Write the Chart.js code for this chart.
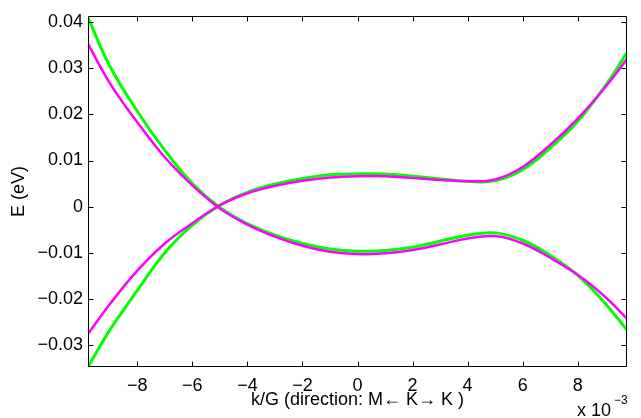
<!DOCTYPE html>
<html>
<head>
<meta charset="utf-8">
<script src="https://cdn.jsdelivr.net/npm/chart.js@4/dist/chart.umd.min.js"></script>
<style>
  html, body { margin: 0; padding: 0; background: #fff; }
  #wrap { width: 641px; height: 418px; }
</style>
</head>
<body>
<div id="wrap"><canvas id="bands"></canvas></div>
<script>
// k/G values in units of 1e-3
const kx = [-9.79, -9, -8, -7, -6, -5, -4, -3, -2, -1, 0, 1, 2, 3, 4, 5, 6, 7, 8, 9, 9.79];

// band falling from upper left (magenta / green)
const bandDownM = [0.0353, 0.0268, 0.0183, 0.0107, 0.0046, -0.0004, -0.0039, -0.0065, -0.0085, -0.0098, -0.0103,
                   -0.0101, -0.0094, -0.0082, -0.0069, -0.0064, -0.0080, -0.0111, -0.0148, -0.0196, -0.0243];
const bandDownG = [0.0410, 0.0305, 0.0207, 0.0122, 0.0050, -0.0002, -0.0037, -0.0062, -0.0080, -0.0092, -0.0097,
                   -0.0095, -0.0088, -0.0075, -0.0062, -0.0057, -0.0073, -0.0106, -0.0149, -0.0210, -0.0268];

// band rising from lower left (magenta / green)
const bandUpM = [-0.0276, -0.0212, -0.0139, -0.0080, -0.0036, 0.0003, 0.0029, 0.0045, 0.0056, 0.0063, 0.0066,
                 0.0066, 0.0062, 0.0058, 0.0055, 0.0059, 0.0086, 0.0134, 0.0191, 0.0259, 0.0320];
const bandUpG = [-0.0348, -0.0268, -0.0182, -0.0100, -0.0040, 0.0003, 0.0031, 0.0049, 0.0061, 0.0069, 0.0071,
                 0.0071, 0.0066, 0.0060, 0.0055, 0.0056, 0.0080, 0.0127, 0.0185, 0.0262, 0.0334];

const xTicks = [-8, -6, -4, -2, 0, 2, 4, 6, 8];
const yTicks = [-0.03, -0.02, -0.01, 0, 0.01, 0.02, 0.03, 0.04];

const FONT = '"Liberation Sans", Arial, Helvetica, sans-serif';
const MAGENTA = '#ff00ff';
const GREEN = '#00ff00';

function pts(ys) {
    return kx.map((x, i) => ({ x: x, y: ys[i] }));
}
function minus(s) {
    return s.replace('-', '\u2212');
}

// matlab style box with inward ticks + exponent label
const boxPlugin = {
    id: 'box',
    afterDraw(chart) {
        const ctx = chart.ctx;
        const a = chart.chartArea;
        const xs = chart.scales.x, ys = chart.scales.y;
        const L = Math.round(a.left) + 0.5, R = Math.round(a.right) - 0.5;
        const T = Math.round(a.top) + 0.5, B = Math.round(a.bottom) - 0.5;
        ctx.save();
        ctx.strokeStyle = '#000';
        ctx.lineWidth = 1;
        ctx.beginPath();
        ctx.rect(L, T, R - L, B - T);
        xTicks.forEach(v => {
            const p = Math.round(xs.getPixelForValue(v)) + 0.5;
            ctx.moveTo(p, B); ctx.lineTo(p, B - 5);
            ctx.moveTo(p, T); ctx.lineTo(p, T + 5);
        });
        yTicks.forEach(v => {
            const p = Math.round(ys.getPixelForValue(v)) + 0.5;
            ctx.moveTo(L, p); ctx.lineTo(L + 5, p);
            ctx.moveTo(R, p); ctx.lineTo(R - 5, p);
        });
        ctx.stroke();

        ctx.fillStyle = '#000';
        ctx.textBaseline = 'alphabetic';
        ctx.textAlign = 'left';
        ctx.font = '18px ' + FONT;
        ctx.fillText('x 10', 577, 416);
        ctx.font = '12px ' + FONT;
        ctx.fillText('\u22123', 614, 404);
        ctx.restore();
    }
};

new Chart(document.getElementById('bands').getContext('2d'), {
    type: 'line',
    data: {
        datasets: [
            { data: pts(bandDownM), borderColor: MAGENTA, borderWidth: 2.5 },
            { data: pts(bandUpM), borderColor: MAGENTA, borderWidth: 2.5 },
            { data: pts(bandDownG), borderColor: GREEN, borderWidth: 3 },
            { data: pts(bandUpG), borderColor: GREEN, borderWidth: 3 }
        ]
    },
    options: {
        responsive: true,
        maintainAspectRatio: false,
        animation: false,
        devicePixelRatio: 1,
        layout: { padding: { left: 0, top: 11, right: 14, bottom: 0 } },
        elements: {
            point: { radius: 0 },
            line: { tension: 0.4, fill: false }
        },
        plugins: {
            legend: { display: false },
            tooltip: { enabled: false }
        },
        scales: {
            x: {
                type: 'linear',
                min: -9.79,
                max: 9.79,
                grid: { display: false, drawTicks: false },
                border: { display: false },
                afterBuildTicks: s => { s.ticks = xTicks.map(v => ({ value: v })); },
                afterFit: s => { s.height = 51; },
                ticks: {
                    padding: 8,
                    color: '#000',
                    font: { family: FONT, size: 18 },
                    maxRotation: 0,
                    callback: v => minus(String(v))
                },
                title: {
                    display: true,
                    text: 'k/G (direction: M\u2190 K\u2192 K )',
                    color: '#000',
                    font: { family: FONT, size: 18 },
                    padding: { top: 0, bottom: 7 }
                }
            },
            y: {
                min: -0.0348,
                max: 0.0414,
                grid: { display: false, drawTicks: false },
                border: { display: false },
                afterBuildTicks: s => { s.ticks = yTicks.map(v => ({ value: v })); },
                afterFit: s => { s.width = 88; },
                ticks: {
                    padding: 5,
                    color: '#000',
                    font: { family: FONT, size: 18 },
                    callback: v => v === 0 ? '0' : minus(v.toFixed(2))
                },
                title: {
                    display: true,
                    text: 'E (eV)',
                    color: '#000',
                    font: { family: FONT, size: 18 },
                    padding: { top: 8, bottom: 0 }
                }
            }
        }
    },
    plugins: [boxPlugin]
});
</script>
</body>
</html>
